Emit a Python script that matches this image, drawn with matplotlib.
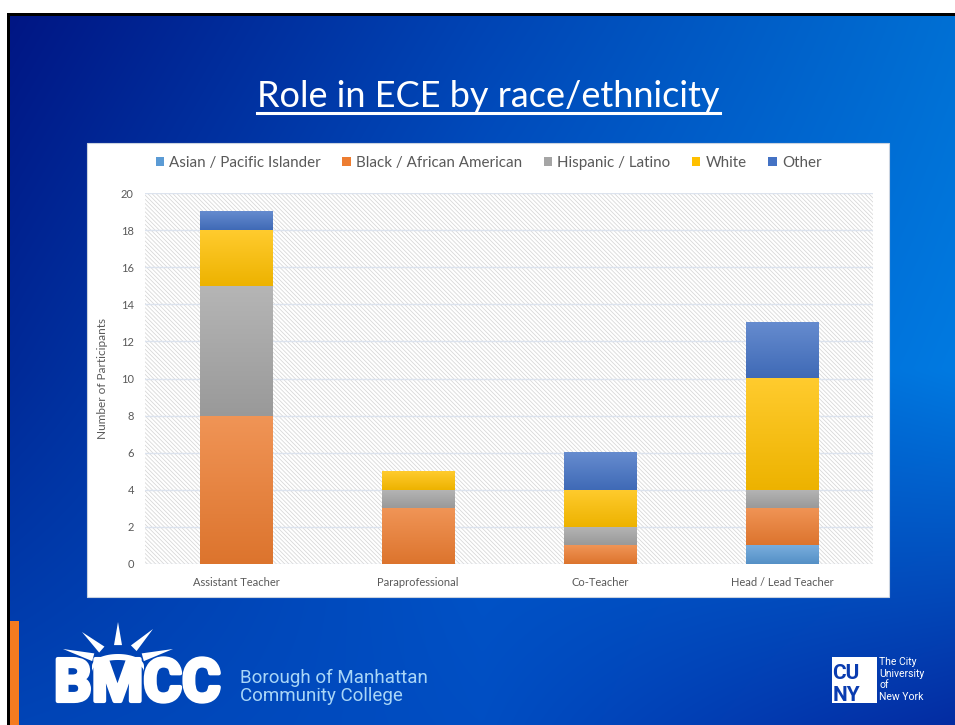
import numpy as np
import matplotlib
matplotlib.use("Agg")
import matplotlib.pyplot as plt
from matplotlib.patches import Rectangle, Patch, Polygon
from matplotlib.lines import Line2D
from matplotlib.colors import to_rgb
import matplotlib.patheffects as pe

# ---------------- data ----------------
categories = ["Assistant Teacher", "Paraprofessional", "Co-Teacher", "Head / Lead Teacher"]
series_names = ["Asian / Pacific Islander", "Black / African American",
                "Hispanic / Latino", "White", "Other"]
asian = [0, 0, 0, 1]
black = [8, 3, 1, 2]
hispanic = [7, 1, 1, 1]
white = [3, 1, 2, 6]
other = [1, 0, 2, 3]
series_values = [asian, black, hispanic, white, other]
series_colors = ["#5B9BD5", "#ED7D31", "#A5A5A5", "#FFC000", "#4472C4"]
y_ticks = [0, 2, 4, 6, 8, 10, 12, 14, 16, 18, 20]
title_text = "Role in ECE by race/ethnicity"
y_label = "Number of Participants"

W, H = 955, 725
FONT = ["Lato", "DejaVu Sans"]
plt.rcParams["hatch.linewidth"] = 0.55
fig = plt.figure(figsize=(W / 100, H / 100), dpi=100, facecolor="white")

# background axes in pixel coordinates (y downward)
bg = fig.add_axes([0, 0, 1, 1])
bg.set_xlim(0, W)
bg.set_ylim(H, 0)
bg.axis("off")

# slide gradient: 3x3 control grid, bilinear
ctrl = np.array([
    [[0, 22, 132], [0, 68, 180], [0, 112, 212]],
    [[0, 42, 152], [0, 88, 202], [0, 122, 225]],
    [[0, 68, 182], [0, 78, 195], [4, 44, 162]],
]) / 255.0
ny_, nx_ = 240, 300
gy = np.linspace(0, 2, ny_)
gx = np.linspace(0, 2, nx_)
rows = np.stack([np.stack([np.interp(gx, [0, 1, 2], ctrl[r, :, c]) for c in range(3)], -1)
                 for r in range(3)])  # 3 x nx x 3
img = np.stack([np.stack([np.interp(gy, [0, 1, 2], rows[:, i, c]) for i in range(nx_)], 1)
                for c in range(3)], -1)
bg.imshow(img, extent=[10, W, H, 15], aspect="auto", interpolation="bilinear", zorder=0)
bg.set_xlim(0, W)
bg.set_ylim(H, 0)

# black borders
bg.add_patch(Rectangle((7, 13), W - 7, 2.7, facecolor="black", lw=0, zorder=1))
bg.add_patch(Rectangle((7, 13), 3, H - 13, facecolor="black", lw=0, zorder=1))
# orange accent bar
bg.add_patch(Rectangle((10, 621), 9, H - 621, facecolor="#F47B20", lw=0, zorder=1))

# chart panel
bg.add_patch(Rectangle((87, 143), 802, 454, facecolor="white", edgecolor="#c9d3e0",
                       lw=0.8, zorder=1))

# title
t = bg.text(488.5, 96, title_text, ha="center", va="center", color="white",
            fontsize=26, family=FONT, zorder=3)

# ---------------- chart ----------------
ax = fig.add_axes([145 / W, (H - 564) / H, (873 - 145) / W, (564 - 193) / H])
ax.set_facecolor("white")
ax.add_patch(Rectangle((0, 0), 1, 1, transform=ax.transAxes, facecolor="white",
                       edgecolor="#d6d6d6", hatch="\\" * 8, lw=0, zorder=0))
ax.set_axisbelow(True)
ax.yaxis.grid(True, color="#dce3ee", lw=1.0, zorder=0.5)

x = np.arange(len(categories))
bottom = np.zeros(len(categories))
bar_w = 0.4


def mix(c, target, f):
    c = np.array(to_rgb(c))
    return c + (np.array(target) - c) * f


for vals, col in zip(series_values, series_colors):
    vals = np.array(vals, dtype=float)
    bars = ax.bar(x, vals, bar_w, bottom=bottom, color=col, lw=0, zorder=2)
    top_c = mix(col, (1, 1, 1), 0.18)
    bot_c = mix(col, (0, 0, 0), 0.07)
    grad = np.linspace(0, 1, 64)[:, None, None]
    gimg = top_c * (1 - grad) + bot_c * grad
    for rect in bars:
        h = rect.get_height()
        if h <= 0:
            continue
        x0, y0, w = rect.get_x(), rect.get_y(), rect.get_width()
        ax.imshow(gimg, extent=[x0, x0 + w, y0, y0 + h], aspect="auto",
                  origin="upper", interpolation="bilinear", zorder=2.1)
    bottom = bottom + vals

ax.set_xlim(-0.5, len(categories) - 0.5)
ax.set_ylim(0, 20)
ax.set_yticks(y_ticks)
ax.set_xticks(x)
ax.set_xticklabels(categories)
for s in ax.spines.values():
    s.set_visible(False)
ax.tick_params(axis="both", length=0, colors="#595959", labelsize=8)
ax.tick_params(axis="y", pad=8)
ax.tick_params(axis="x", pad=9)
for lab in ax.get_xticklabels() + ax.get_yticklabels():
    lab.set_family(FONT)
ax.set_ylabel(y_label, color="#595959", fontsize=8.5, family=FONT)
ax.yaxis.set_label_coords((108 - 145) / (873 - 145), 0.5)

handles = [Patch(facecolor=c, edgecolor="none") for c in series_colors]
leg = ax.legend(handles, series_names, loc="center", ncol=5, frameon=False,
                bbox_to_anchor=(488.5 / W, (H - 163) / H), bbox_transform=fig.transFigure,
                handlelength=0.55, handleheight=0.55, handletextpad=0.35,
                columnspacing=1.42, labelcolor="#595959", prop={"family": FONT, "size": 10.9})

# ---------------- logos ----------------
# BMCC sunburst
cx, cy = 118, 664
tips = [(63, 649), (82, 632), (118, 622), (153, 629), (173, 649)]
for tx, ty in tips:
    dx, dy = tx - cx, ty - cy
    L = np.hypot(dx, dy)
    nx, ny = -dy / L, dx / L
    bx, by = cx + dx * 0.45, cy + dy * 0.45
    bg.add_patch(Polygon([(bx + nx * 4, by + ny * 4), (tx, ty), (bx - nx * 4, by - ny * 4)],
                         closed=True, facecolor="white", lw=0, zorder=3))
theta = np.linspace(np.pi, 2 * np.pi, 40)
arc_x = cx + 26 * np.cos(theta)
arc_y = cy + 12 * np.sin(theta) + 2
bg.fill(np.r_[arc_x, arc_x[::-1]], np.r_[arc_y, arc_y[::-1] + 6], color="white", lw=0, zorder=3)
bg.text(54, 701, "BMCC", color="white", fontsize=42.5, family=["Roboto", "DejaVu Sans"],
        fontweight="bold", ha="left", va="baseline", zorder=3,
        path_effects=[pe.withStroke(linewidth=3, foreground="white")])
bg.text(240, 683, "Borough of Manhattan", color="#a9d6f7", fontsize=13.5,
        family=["Roboto", "DejaVu Sans"], ha="left", va="baseline", zorder=3)
bg.text(240, 701, "Community College", color="#a9d6f7", fontsize=13.5,
        family=["Roboto", "DejaVu Sans"], ha="left", va="baseline", zorder=3)

# CUNY
bg.add_patch(Rectangle((832, 657), 45, 46, facecolor="white", lw=0, zorder=3))
bg.text(846, 679, "CU", color="#0a3cb0", fontsize=15, fontweight="bold",
        family=["Roboto", "DejaVu Sans"], ha="center", va="baseline", zorder=4)
bg.text(846, 701, "NY", color="#0a3cb0", fontsize=15, fontweight="bold",
        family=["Roboto", "DejaVu Sans"], ha="center", va="baseline", zorder=4)
for i, s in enumerate(["The City", "University", "of", "New York"]):
    bg.text(879, 662 + i * 11.7, s, color="white", fontsize=7.5,
            family=["Roboto", "DejaVu Sans"], ha="left", va="center", zorder=3)

# title underline
fig.canvas.draw()
bb = t.get_window_extent()
inv = bg.transData.inverted()
(x0, y0), (x1, y1) = inv.transform([(bb.x0, bb.y0), (bb.x1, bb.y1)])
bg.add_line(Line2D([x0, x1], [113, 113], color="white", lw=2.2, zorder=3))

fig.savefig("out.png", dpi=100, facecolor="white")
